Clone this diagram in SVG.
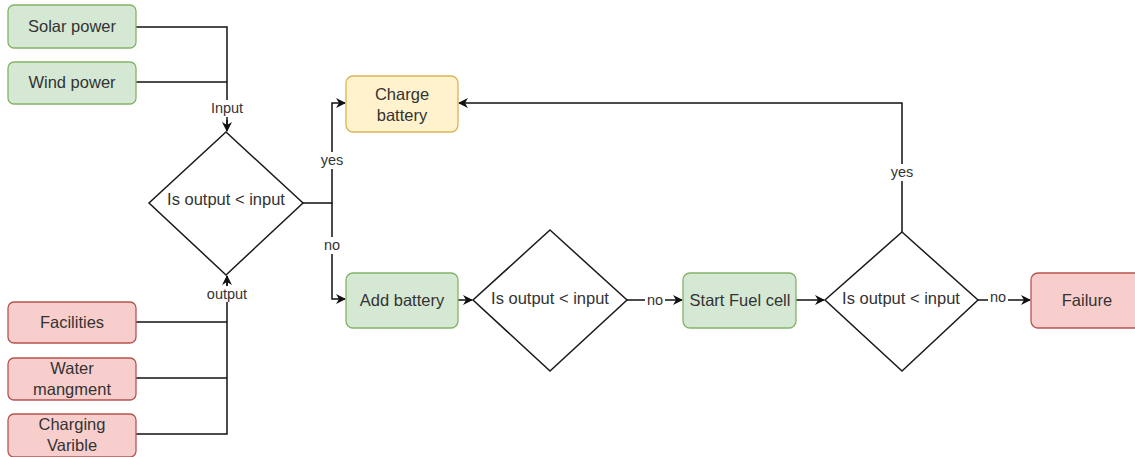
<svg xmlns="http://www.w3.org/2000/svg" width="1135" height="457" viewBox="0 0 1135 457">
  <style>
    .green { fill: #d5e8d4; stroke: #82b366; stroke-width: 1.3; }
    .yellow { fill: #fff2cc; stroke: #d6b656; stroke-width: 1.3; }
    .red { fill: #f8cecc; stroke: #b85450; stroke-width: 1.3; }
    .decision { fill: #ffffff; stroke: #1a1a1a; stroke-width: 1.5; }
    .txt { font-family: "Liberation Sans", Arial, sans-serif; font-size: 16.5px; fill: #333333; text-anchor: middle; dominant-baseline: central; }
    .edge { fill: none; stroke: #111111; stroke-width: 1.5; }
    .lbl { font-family: "Liberation Sans", Arial, sans-serif; font-size: 14.5px; fill: #333333; text-anchor: middle; dominant-baseline: central; }
    .lblbg { fill: #ffffff; }
  </style>
  <defs>
    <marker id="arrow" viewBox="0 0 10 10" refX="9" refY="5" markerWidth="10" markerHeight="10" markerUnits="userSpaceOnUse" orient="auto">
      <path d="M0,0 L10,5 L0,10 L3,5 Z" fill="#111111"/>
    </marker>
  </defs>
  <rect width="1135" height="457" fill="#ffffff"/>

  <!-- connectors -->
  <g id="connectors">
    <path class="edge" d="M136,27 H227 V131"/>
    <path class="edge" d="M136,82 H227"/>
    <path class="edge" d="M136,434 H227 V276"/>
    <path class="edge" d="M136,322 H227"/>
    <path class="edge" d="M136,378 H227"/>
    <path class="edge" d="M227,290 V276" marker-end="url(#arrow)"/>
    <path class="edge" d="M227,120 V131" marker-end="url(#arrow)"/>
    <path class="edge" d="M303,203 H332 V103 H345" marker-end="url(#arrow)"/>
    <path class="edge" d="M332,203 V299 H345" marker-end="url(#arrow)"/>
    <path class="edge" d="M458,300 H472" marker-end="url(#arrow)"/>
    <path class="edge" d="M627,300 H682" marker-end="url(#arrow)"/>
    <path class="edge" d="M796,300 H824" marker-end="url(#arrow)"/>
    <path class="edge" d="M978,300 H1030" marker-end="url(#arrow)"/>
    <path class="edge" d="M902,232 V103 H459" marker-end="url(#arrow)"/>

    <rect class="lblbg" x="208" y="100" width="38" height="17"/>
    <text class="lbl" x="227" y="108">Input</text>
    <rect class="lblbg" x="204" y="286" width="46" height="16"/>
    <text class="lbl" x="227" y="294">output</text>
    <rect class="lblbg" x="318" y="152" width="28" height="17"/>
    <text class="lbl" x="332" y="160">yes</text>
    <rect class="lblbg" x="322" y="237" width="20" height="17"/>
    <text class="lbl" x="332" y="245">no</text>
    <rect class="lblbg" x="645" y="292" width="20" height="16"/>
    <text class="lbl" x="655" y="300">no</text>
    <rect class="lblbg" x="888" y="164" width="28" height="17"/>
    <text class="lbl" x="902" y="172">yes</text>
    <rect class="lblbg" x="988" y="289" width="20" height="14"/>
    <text class="lbl" x="998" y="297">no</text>
  </g>

  <!-- sources -->
  <g id="solar-power">
    <rect class="green" x="8" y="5" width="128" height="43" rx="6"/>
    <text class="txt" x="72" y="26">Solar power</text>
  </g>
  <g id="wind-power">
    <rect class="green" x="8" y="62" width="128" height="42" rx="6"/>
    <text class="txt" x="72" y="82">Wind power</text>
  </g>

  <!-- loads -->
  <g id="facilities">
    <rect class="red" x="8" y="302" width="128" height="41" rx="6"/>
    <text class="txt" x="72" y="322">Facilities</text>
  </g>
  <g id="water-management">
    <rect class="red" x="8" y="358" width="128" height="42" rx="6"/>
    <text class="txt" x="72" y="368">Water</text>
    <text class="txt" x="72" y="389">mangment</text>
  </g>
  <g id="charging-variable">
    <rect class="red" x="8" y="414" width="128" height="43" rx="6"/>
    <text class="txt" x="72" y="424">Charging</text>
    <text class="txt" x="72" y="445">Varible</text>
  </g>

  <!-- decisions -->
  <g id="decision-1">
    <polygon class="decision" points="226,132 303,203 226,275 149,203"/>
    <text class="txt" x="226" y="199">Is output &lt; input</text>
  </g>
  <g id="charge-battery">
    <rect class="yellow" x="346" y="76" width="112" height="56" rx="7"/>
    <text class="txt" x="402" y="94">Charge</text>
    <text class="txt" x="402" y="115">battery</text>
  </g>
  <g id="add-battery">
    <rect class="green" x="346" y="273" width="112" height="55" rx="7"/>
    <text class="txt" x="402" y="300">Add battery</text>
  </g>
  <g id="decision-2">
    <polygon class="decision" points="550,230 627,300 550,371 473,300"/>
    <text class="txt" x="550" y="298">Is output &lt; input</text>
  </g>
  <g id="start-fuel-cell">
    <rect class="green" x="683" y="273" width="113" height="55" rx="7"/>
    <text class="txt" x="740" y="300">Start Fuel cell</text>
  </g>
  <g id="decision-3">
    <polygon class="decision" points="902,232 978,300 902,371 825,300"/>
    <text class="txt" x="901" y="298">Is output &lt; input</text>
  </g>
  <g id="failure">
    <rect class="red" x="1031" y="273" width="112" height="55" rx="7"/>
    <text class="txt" x="1087" y="300">Failure</text>
  </g>
</svg>
